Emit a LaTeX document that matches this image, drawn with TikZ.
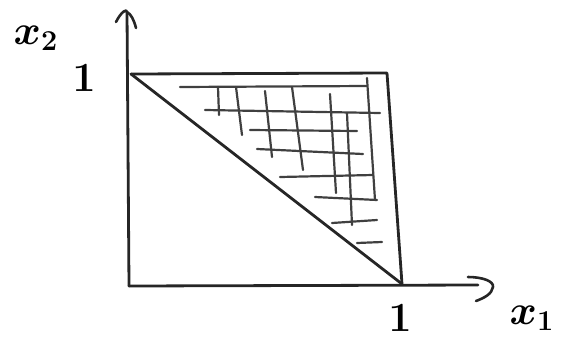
\documentclass[tikz,border=0pt]{standalone}
\usetikzlibrary{arrows.meta}
\begin{document}
\begin{tikzpicture}[x=1pt,y=-1pt,
  pen/.style={line width=2.8pt,line cap=round,line join=round,black!85},
  hatch/.style={line width=2.2pt,line cap=round,black!75},
  tip/.style={line width=2.6pt,line cap=round,line join=round,black!85},
  lab/.style={font=\huge\boldmath,scale=2,inner sep=0pt}]
\useasboundingbox (0,0) rectangle (565,349);
% named points
\coordinate (O) at (129,286);
\coordinate (Ytop) at (127,12);
\coordinate (Xend) at (478,285);
\coordinate (TL) at (131,74);
\coordinate (TR) at (387,73);
\coordinate (BR) at (402,284);
% axes
\draw[pen] (O) -- (Ytop);
\draw[pen] (O) -- (Xend);
\coordinate (ya) at (116,22); \coordinate (yb) at (136,28);
\draw[tip] (ya) .. controls (121,12) and (127,8) .. (Ytop) .. controls (131,14) and (134,20) .. (yb);
\coordinate (xa) at (468,277); \coordinate (xb) at (476,301);
\draw[tip] (xa) .. controls (482,277) and (494,281) .. (493,287) .. controls (492,294) and (484,298) .. (xb);
% square and diagonal
\draw[pen] (TL) -- (TR) -- (BR);
\draw[pen] (TL) -- (BR);
% hatching (horizontal)
\draw[hatch] (180,87) -- (367,86);
\draw[hatch] (205,110) -- (380,113);
\draw[hatch] (250,130) -- (357,131);
\draw[hatch] (257,149) -- (363,154);
\draw[hatch] (280,177) -- (373,175);
\draw[hatch] (315,197) -- (377,200);
\draw[hatch] (332,223) -- (377,220);
\draw[hatch] (357,243) -- (382,242);
% hatching (vertical)
\draw[hatch] (218,87) -- (219,115);
\draw[hatch] (236,87) -- (242,135);
\draw[hatch] (265,91) -- (272,157);
\draw[hatch] (292,87) -- (303,170);
\draw[hatch] (330,94) -- (336,193);
\draw[hatch] (347,113) -- (352,225);
\draw[hatch] (367,78) -- (375,200);
% labels
\node[lab] (x2) at (36,38) {$x_2$};
\node[lab] (one2) at (84,78) {$1$};
\node[lab] (one1) at (400,318) {$1$};
\node[lab] (x1) at (532,318) {$x_1$};
\end{tikzpicture}
\end{document}
